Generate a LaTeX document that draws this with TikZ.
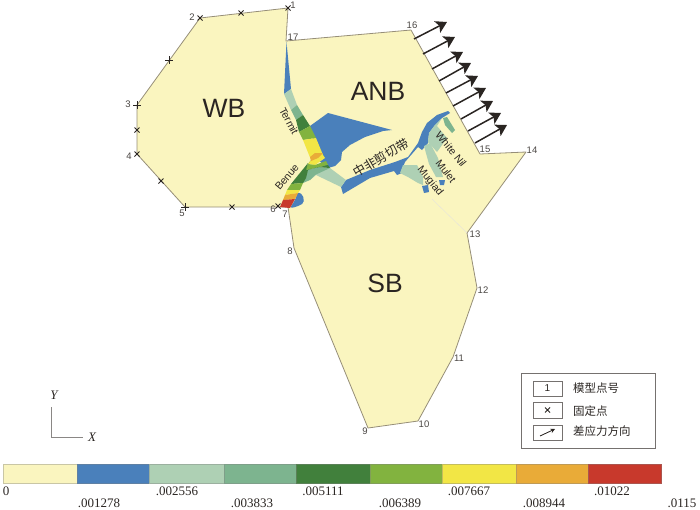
\documentclass[tikz,border=0pt]{standalone}
\usepackage{fontspec}
\setmainfont{Liberation Sans}
\newfontfamily\serifnum{Liberation Serif}
\newfontfamily\cjk{Noto Sans CJK SC}
\usetikzlibrary{arrows.meta,shapes.misc}
\definecolor{cyel}{HTML}{FAF5BF}
\definecolor{cblue}{HTML}{4A80BB}
\definecolor{clight}{HTML}{AED0B4}
\definecolor{cmed}{HTML}{7DB48F}
\definecolor{cdark}{HTML}{41803C}
\definecolor{cmid}{HTML}{82B33F}
\definecolor{cyl}{HTML}{F2E645}
\definecolor{cor}{HTML}{E9AB38}
\definecolor{cred}{HTML}{C8392C}
\definecolor{edge}{HTML}{968E78}
\definecolor{ink}{HTML}{2A2522}
\tikzset{
  fixpt/.style={cross out,draw=ink,line width=0.9pt,minimum size=5pt,inner sep=0pt,outer sep=0pt},
  vlabel/.style={font=\fontsize{9.5}{9.5}\selectfont,text=ink!85,inner sep=0pt},
  region/.style={font=\fontsize{26.5}{26.5}\selectfont,text=ink,inner sep=0pt},
  faultname/.style={font=\fontsize{10.5}{10.5}\selectfont,text=ink,inner sep=0pt},
  stressarrow/.style={-{Stealth[length=11pt,width=13pt,inset=2.5pt]},line width=1.5pt,draw=ink,fill=ink},
  legendbox/.style={draw=ink!65,line width=0.7pt,fill=white},
  legendtext/.style={font=\cjk\fontsize{11.5}{11.5}\selectfont,text=ink,anchor=west,inner sep=0pt},
  barlabel/.style={font=\serifnum\fontsize{13}{13}\selectfont,text=ink,inner sep=0pt},
  axisline/.style={draw=ink!55,line width=0.8pt},
  axislabel/.style={font=\serifnum\itshape\fontsize{13}{13}\selectfont,text=ink,inner sep=0pt},
}
\begin{document}
\begin{tikzpicture}[x=1pt,y=-1pt]
\useasboundingbox (0,0) rectangle (700,509);
% domain
\draw[fill=cyel,draw=edge,line width=0.8pt,line join=round]
 (288,8)--(200,18)--(137,105)--(137,154)--(185,207)--(278,207)--(288,207)--(294,248)--(368,428)--(418,421)--(453,357)--(477,288)--(467,233)--(526,152)--(480,154)--(411,30)--(286,41)--cycle;
\draw[edge!25,line width=0.4pt] (467,233)--(432,199);
% blue regions
\fill[cblue] (286.5,42)--(291,89)--(284,94)--cycle;
\fill[cblue] (310,126)--(328,113)--(392,130)--(383,131)--(365,137)--(350,145)--(342,152)--(341,160)--(335,166)--(328,168)--(318,160)--cycle;
\fill[cblue,rounded corners=2pt] (295,200)--(298,192)--(303,195)--(304,203)--(296,207)--(290,208)--cycle;
\fill[cblue] (346,180)--(370,170)--(395,162)--(408,157)--(418,143)--(422,132)--(427,123)--(437,115)--(448,111)--(450,113)--(442,118)--(435,125)--(429,133)--(428,143)--(422,150)--(418,147)--(405,162)--(403,167)--(402,173)--(397,175)--(394,171)--(370,178)--(343,194)--(341,187)--cycle;
% light green branches
\fill[clight] (442,118)--(435,125)--(429,133)--(428,142)--(437,152)--(447,138)--(437,126)--cycle;
\fill[cmed] (443,118)--(447,117)--(455,130)--(452,133)--(445,125)--cycle;
\fill[clight] (424,146)--(430,143)--(438,158)--(443,177)--(436,177)--(429,164)--cycle;
\fill[cblue] (439,180)--(445,180)--(444,185)--(440,185)--cycle;
\fill[clight] (403,165)--(417,165)--(423,177)--(423,185)--(418,183)--(408,177)--(400,173)--cycle;
\fill[cblue] (422,186)--(428,185)--(429,192)--(424,193)--cycle;
\fill[clight] (318,167)--(330,168)--(346,180)--(341,187)--(316,175)--(310,180)--cycle;
\fill[cmed] (308,170)--(318,167)--(330,168)--(315,175)--(310,180)--(303,183)--cycle;
% Termit band
\fill[clight] (284,94)--(291,89)--(297,105)--(291,110)--cycle;
\fill[cmed] (291,110)--(297,105)--(303,115)--(296,120)--cycle;
\fill[cdark] (296,120)--(303,115)--(310,126)--(299,132)--cycle;
\fill[cmid] (299,132)--(310,126)--(316,138)--(303,140)--cycle;
\fill[cyl] (303,140)--(316,138)--(323,155)--(325,158)--(315,165)--(308,164)--(311,160)--cycle;
\fill[cor] (310,157)--(315,153)--(323,153)--(318,158)--(311,161)--cycle;
\fill[cmid] (311,160)--(308,164)--(315,165)--(326,161)--(328,165)--(306,170)--(304,170)--cycle;
% Benue band
\fill[cdark] (308,163)--(306,170)--(328,165)--(330,168)--(318,167)--(308,170)--(306,178)--(303,183)--(291,184)--cycle;
\fill[cmid] (291,184)--(303,183)--(300,190)--(287,190)--cycle;
\fill[cyl] (287,190)--(300,190)--(298,193)--(285,195)--cycle;
\fill[cor] (285,195)--(298,193)--(295,199)--(283,200)--cycle;
\fill[cred] (283,200)--(295,199)--(290,208)--(280,207)--cycle;
% fixed points
\node[fixpt] (p1) at (288,8) {};
\node[fixpt] (p2) at (200,18) {};
\node[fixpt] (pa) at (241,13) {};
\node[fixpt,rotate=45] (pb) at (169,60) {};
\node[fixpt,rotate=45] (p3) at (137,105) {};
\node[fixpt] (pc) at (137,130) {};
\node[fixpt] (p4) at (137,154) {};
\node[fixpt] (pd) at (161,181) {};
\node[fixpt,rotate=45] (p5) at (185,207) {};
\node[fixpt] (pe) at (232,207) {};
\node[fixpt] (p6) at (278,206) {};
% vertex labels
\node[vlabel] (l1) at (293,5) {1};
\node[vlabel] (l2) at (192,17) {2};
\node[vlabel] (l3) at (128,104) {3};
\node[vlabel] (l4) at (129,156) {4};
\node[vlabel] (l5) at (182,213) {5};
\node[vlabel] (l6) at (273,209) {6};
\node[vlabel] (l7) at (285,214) {7};
\node[vlabel] (l8) at (290,251) {8};
\node[vlabel] (l9) at (365,431) {9};
\node[vlabel] (l10) at (424,424) {10};
\node[vlabel] (l11) at (459,358) {11};
\node[vlabel] (l12) at (483,290) {12};
\node[vlabel] (l13) at (475,234) {13};
\node[vlabel] (l14) at (532,150) {14};
\node[vlabel] (l15) at (485,149) {15};
\node[vlabel] (l16) at (412,25) {16};
\node[vlabel] (l17) at (293,37) {17};
% region and fault names
\node[region] (wb) at (224,108) {WB};
\node[region] (anb) at (378,91) {ANB};
\node[region] (sb) at (385,283) {SB};
\node[faultname,rotate=-62] (termit) at (289,121) {Termit};
\node[faultname,rotate=50] (benue) at (287,177) {Benue};
\node[faultname,rotate=-51] (nile) at (451,149) {White Nil};
\node[faultname,rotate=-52] (mulet) at (446,171) {Mulet};
\node[faultname,rotate=-51] (mugiad) at (430,181) {Mugiad};
\node[font=\cjk\fontsize{12.5}{12.5}\selectfont,text=ink,rotate=30,inner sep=0pt] (shear) at (381,158) {中非剪切带};
% stress arrows
\foreach \i/\a/\b/\c/\d in {1/414/39/447/22,2/423/54/455/37,3/432/69/463/52,4/439/81/471/63,5/446/93/478/76,6/453/106/486/88,7/461/119/493/101,8/468/131/501/113,9/475/143/507/125}{
  \coordinate (s\i) at (\a,\b);
  \coordinate (t\i) at (\c,\d);
  \draw[stressarrow] (s\i)--(t\i);
}
% legend
\draw[legendbox] (521,373) rectangle (655,448);
\draw[legendbox] (533,381) rectangle (562,396);
\draw[legendbox] (533,402) rectangle (562,418);
\draw[legendbox] (533,425) rectangle (562,440);
\node[font=\fontsize{10}{10}\selectfont,text=ink,inner sep=0pt] (k1) at (547.5,388.5) {1};
\node[fixpt] (k2) at (547.5,410) {};
\coordinate (k3a) at (540,436);
\coordinate (k3b) at (555,429);
\draw[-{Stealth[length=4.5pt,width=4.5pt]},line width=0.8pt,draw=ink,fill=ink] (k3a)--(k3b);
\node[legendtext] (t1) at (573,388) {模型点号};
\node[legendtext] (t2) at (573,411) {固定点};
\node[legendtext] (t3) at (573,431) {差应力方向};
% axes
\coordinate (ay) at (51,407);
\coordinate (ao) at (51,437);
\coordinate (ax) at (83,437);
\draw[axisline] (ay)--(ao)--(ax);
\node[axislabel] (ylab) at (54,395) {Y};
\node[axislabel] (xlab) at (92,437) {X};
% colour bar
\foreach \l/\r/\c in {3/77/cyel,77/149/cblue,149/224/clight,224/296/cmed,296/370/cdark,370/442/cmid,442/516/cyl,516/588/cor,588/661/cred}{
  \fill[\c] (\l,464) rectangle (\r,483);
  \draw[\c!75!black!80,line width=0.5pt] (\l,464) rectangle (\r,483);
}
\node[barlabel] (b0) at (6,491) {0};
\node[barlabel] (b1) at (99,503) {.001278};
\node[barlabel] (b2) at (177,491) {.002556};
\node[barlabel] (b3) at (252,503) {.003833};
\node[barlabel] (b4) at (323,491) {.005111};
\node[barlabel] (b5) at (400,503) {.006389};
\node[barlabel] (b6) at (469,491) {.007667};
\node[barlabel] (b7) at (544,503) {.008944};
\node[barlabel] (b8) at (612,491) {.01022};
\node[barlabel] (b9) at (682,503) {.0115};
\end{tikzpicture}
\end{document}
